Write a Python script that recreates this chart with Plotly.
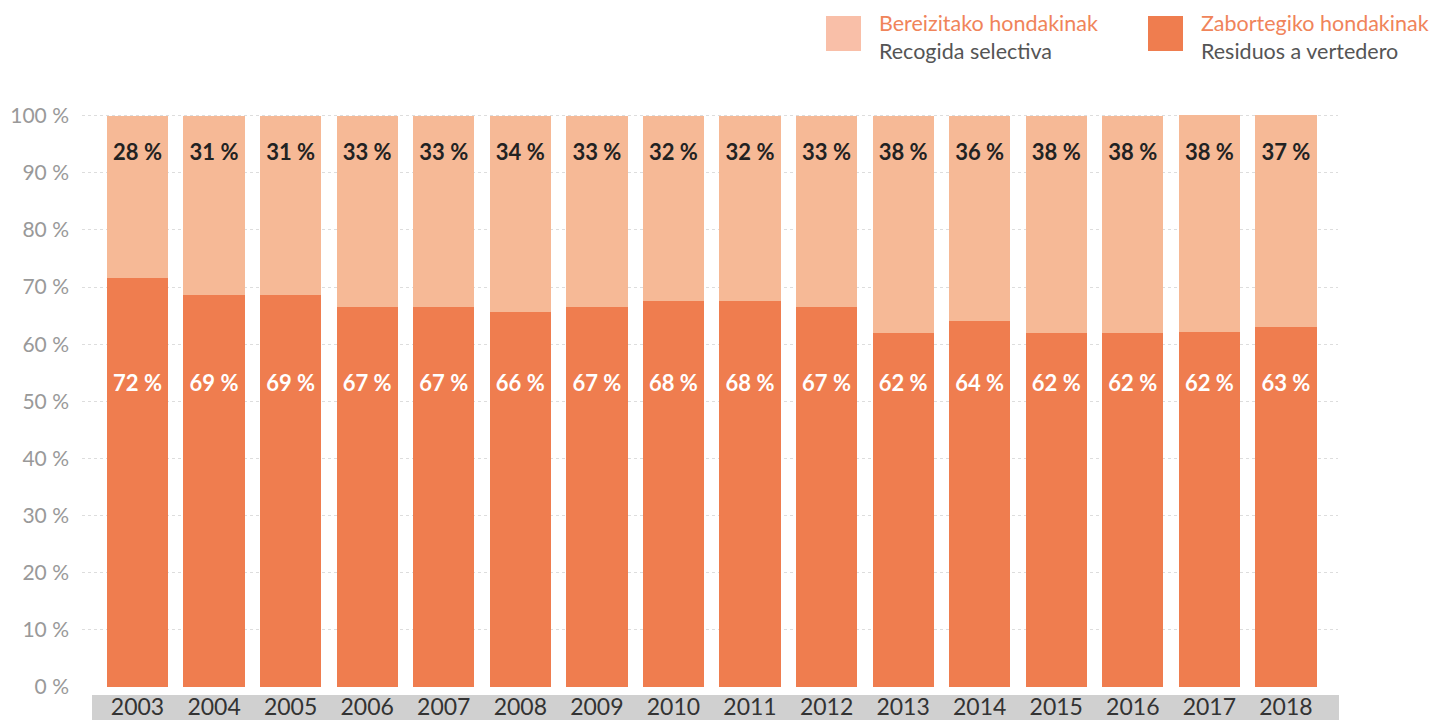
import plotly.graph_objects as go

years = ["2003", "2004", "2005", "2006", "2007", "2008", "2009", "2010",
         "2011", "2012", "2013", "2014", "2015", "2016", "2017", "2018"]
landfill = [71.6, 68.6, 68.6, 66.6, 66.6, 65.6, 66.6, 67.6,
            67.6, 66.6, 62.0, 64.0, 62.0, 62.0, 62.2, 63.1]
selective = [28.4, 31.4, 31.4, 33.4, 33.4, 34.4, 33.4, 32.4,
             32.4, 33.4, 38.0, 36.0, 38.0, 38.0, 38.0, 37.0]
y_ticks = list(range(0, 101, 10))

FONT = "Lato"
C_DARK = "#EF7D4F"
C_LIGHT = "#F6B996"

def pct(v):
    return f"{int(v + 0.5)} %"

fig = go.Figure()
fig.add_trace(go.Bar(x=years, y=landfill, marker_color=C_DARK, marker_line_width=0,
                     name="Zabortegiko hondakinak", hoverinfo="skip"))
fig.add_trace(go.Bar(x=years, y=selective, marker_color=C_LIGHT, marker_line_width=0,
                     name="Bereizitako hondakinak", hoverinfo="skip"))
fig.add_trace(go.Scatter(x=years, y=[52.8] * len(years), mode="text",
                         text=[pct(v) for v in landfill],
                         textfont=dict(family=FONT, size=22, color="white", weight="bold"),
                         hoverinfo="skip"))
fig.add_trace(go.Scatter(x=years, y=[93.2] * len(years), mode="text",
                         text=[pct(v) for v in selective],
                         textfont=dict(family=FONT, size=22, color="#222222", weight="bold"),
                         hoverinfo="skip"))

fig.update_layout(
    width=1433, height=720,
    barmode="stack", bargap=0.2,
    showlegend=False,
    plot_bgcolor="white", paper_bgcolor="white",
    margin=dict(l=82, r=95, t=110, b=33, autoexpand=False),
    font=dict(family=FONT),
    xaxis=dict(type="category", range=[-0.725, 15.68], showgrid=False, zeroline=False,
               showline=False, ticks="", tickfont=dict(size=23, color="#333333"),
               ticklabelstandoff=4),
    yaxis=dict(range=[0, 101], tickmode="array", tickvals=y_ticks,
               ticktext=[f"{v} %" for v in y_ticks],
               showgrid=True, gridcolor="#dddddd", griddash="dot", gridwidth=1,
               zeroline=False, showline=False, ticks="",
               tickfont=dict(size=21, color="#999999"), ticklabelstandoff=12),
    shapes=[
        dict(type="rect", xref="paper", yref="paper", x0=(92 - 82) / 1256, x1=(1339 - 82) / 1256,
             y0=-(695 - 687) / 577, y1=-(720 - 687) / 577, fillcolor="#d0d0d0", line_width=0,
             layer="below"),
        dict(type="rect", xref="paper", yref="paper", x0=(826 - 82) / 1256, x1=(861 - 82) / 1256,
             y0=(687 - 16) / 577, y1=(687 - 51) / 577, fillcolor="#F9BFA8", line_width=0),
        dict(type="rect", xref="paper", yref="paper", x0=(1148 - 82) / 1256, x1=(1183 - 82) / 1256,
             y0=(687 - 16) / 577, y1=(687 - 51) / 577, fillcolor=C_DARK, line_width=0),
    ],
    annotations=[
        dict(xref="paper", yref="paper", x=(877 - 82) / 1256, y=(687 - 23) / 577,
             text="Bereizitako hondakinak", showarrow=False, xanchor="left", yanchor="middle",
             font=dict(size=21.5, color="#F0845A", family=FONT)),
        dict(xref="paper", yref="paper", x=(877 - 82) / 1256, y=(687 - 51) / 577,
             text="Recogida selectiva", showarrow=False, xanchor="left", yanchor="middle",
             font=dict(size=21.5, color="#555555", family=FONT)),
        dict(xref="paper", yref="paper", x=(1199 - 82) / 1256, y=(687 - 23) / 577,
             text="Zabortegiko hondakinak", showarrow=False, xanchor="left", yanchor="middle",
             font=dict(size=21.5, color="#F0845A", family=FONT)),
        dict(xref="paper", yref="paper", x=(1199 - 82) / 1256, y=(687 - 51) / 577,
             text="Residuos a vertedero", showarrow=False, xanchor="left", yanchor="middle",
             font=dict(size=21.5, color="#555555", family=FONT)),
    ],
)

fig.write_html("out.html", config={"displayModeBar": False},
               post_script="document.body.style.margin='0';")
